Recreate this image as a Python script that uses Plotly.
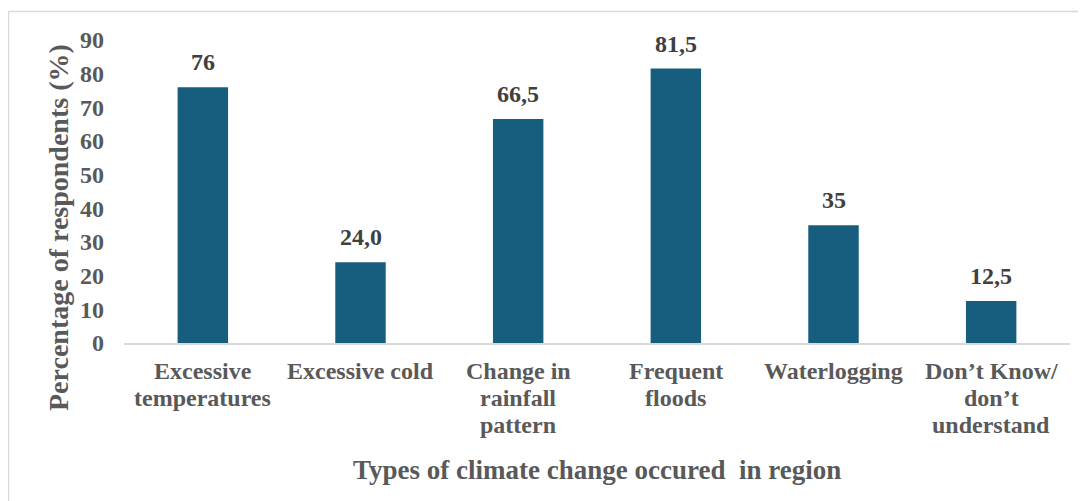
import plotly.graph_objects as go

categories = ["Excessive<br>temperatures", "Excessive cold", "Change in<br>rainfall<br>pattern",
              "Frequent<br>floods", "Waterlogging", "Don’t Know/<br>don’t<br>understand"]
values = [76, 24.0, 66.5, 81.5, 35, 12.5]
value_labels = ["76", "24,0", "66,5", "81,5", "35", "12,5"]
y_ticks = [0, 10, 20, 30, 40, 50, 60, 70, 80, 90]

# page has an 8px body margin, so the figure is drawn at (8, 8)
OFF = 8
W, H = 1086 - OFF, 501 - OFF
L, R, T, B = 116, 16, 32, 158
pw, ph = W - L - R, H - T - B

def px(x):
    return (x - OFF - L) / pw

def py(y):
    return (H - B - (y - OFF)) / ph

font = "Liberation Serif, Times New Roman, serif"
grey = "#595959"

fig = go.Figure(go.Bar(
    x=categories, y=values,
    marker=dict(color="#175e7e", line=dict(width=0)),
    cliponaxis=False,
))

annotations = [
    dict(text="Percentage of respondents (%)", textangle=-90,
         xref="paper", yref="paper", x=px(58), y=py(228),
         xanchor="center", yanchor="middle", showarrow=False,
         font=dict(family=font, size=28, color=grey, weight="bold")),
    dict(text="Types of climate change occured  in region",
         xref="paper", yref="paper", x=px(597), y=py(470),
         xanchor="center", yanchor="middle", showarrow=False,
         font=dict(family=font, size=27, color=grey, weight="bold")),
]
for cat, val, lab in zip(categories, values, value_labels):
    annotations.append(dict(
        text=lab, x=cat, y=val, xref="x", yref="y",
        xanchor="center", yanchor="middle", yshift=25, showarrow=False,
        font=dict(family=font, size=24, color="#404040", weight="bold")))
line_gap = 27
for cat in categories:
    for i, line in enumerate(cat.split("<br>")):
        annotations.append(dict(
            text=line, x=cat, xref="x", yref="paper",
            y=py(371 + i * line_gap), xanchor="center", yanchor="middle",
            showarrow=False,
            font=dict(family=font, size=24, color=grey, weight="bold")))

fig.update_layout(
    width=W, height=H, margin=dict(l=L, r=R, t=T, b=B),
    paper_bgcolor="white", plot_bgcolor="white",
    bargap=0.68, showlegend=False,
    font=dict(family=font, size=24, color=grey),
    xaxis=dict(showgrid=False, showline=True, linecolor="#d9d9d9", linewidth=2,
               showticklabels=False, ticks=""),
    yaxis=dict(range=[0, 90], tickvals=y_ticks, showgrid=False, showline=False,
               zeroline=False, ticks="", ticklabelstandoff=19,
               tickfont=dict(family=font, size=24, color=grey, weight="bold")),
    shapes=[dict(type="rect", xref="paper", yref="paper",
                 x0=px(8.5), x1=px(1120), y0=py(11.5), y1=py(540),
                 line=dict(color="#d9d9d9", width=1.5), layer="below")],
    annotations=annotations,
)

fig.write_html("out.html")
